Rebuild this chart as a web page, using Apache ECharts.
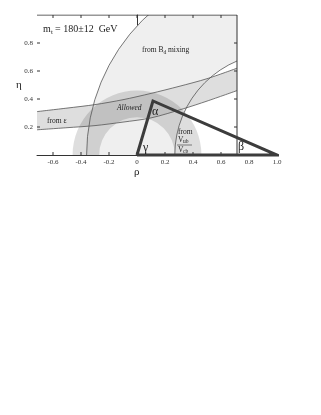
<!DOCTYPE html>
<html><head><meta charset="utf-8">
<script src="https://cdn.jsdelivr.net/npm/echarts@6/dist/echarts.min.js"></script>
<style>html,body{margin:0;padding:0;background:#fff}#c{width:321px;height:415px}</style>
</head><body><div id="c"></div>
<script>
// ---- data ----
const xTickValues = [-0.6, -0.4, -0.2, 0, 0.2, 0.4, 0.6, 0.8, 1.0];
const xTickLabels = ['-0.6', '-0.4', '-0.2', '0', '0.2', '0.4', '0.6', '0.8', '1.0'];
const xFrameTicks = [-0.6, -0.4, -0.2, 0, 0.2, 0.4, 0.6];
const yTickValues = [0.2, 0.4, 0.6, 0.8];
const yTickLabels = ['0.2', '0.4', '0.6', '0.8'];
const frameRho = [-0.7143, 0.7143];
const frameEta = [0, 1.0];
const bdCenter = [1, 0];
const bdRadii = [0.73, 1.36];
const vubCenter = [0, 0];
const vubRadii = [0.27, 0.46];
const epsUpper = [[-0.7143, 0.31], [-0.5, 0.335], [-0.3, 0.36], [-0.1, 0.395], [0.1, 0.44], [0.3, 0.49], [0.5, 0.545], [0.7143, 0.62]];
const epsLower = [[-0.7143, 0.18], [-0.5, 0.195], [-0.3, 0.21], [-0.1, 0.235], [0.1, 0.265], [0.33, 0.33], [0.5, 0.385], [0.7143, 0.46]];
const triangle = [[0, 0], [0.114, 0.386], [1.0, 0], [0, 0]];
const frameEdge = [[-0.7143, 1.0], [0.7143, 1.0], [0.7143, 0]];

const chart = echarts.init(document.getElementById('c'), null, {renderer: 'canvas'});
const FONT = 'Liberation Serif';
const lblIdx = v => { const i = xTickValues.findIndex(t => Math.abs(t - v) < 1e-6); return i >= 0 ? xTickLabels[i] : ''; };
const ylblIdx = v => { const i = yTickValues.findIndex(t => Math.abs(t - v) < 1e-6); return i >= 0 ? yTickLabels[i] : ''; };

function renderShading(params, api) {
  const tl = api.coord([frameRho[0], frameEta[1]]);
  const br = api.coord([frameRho[1], frameEta[0]]);
  const unit = api.size([1, 0])[0];
  const bc = api.coord(bdCenter);
  const vc = api.coord(vubCenter);
  const up = epsUpper.map(p => api.coord(p));
  const lo = epsLower.map(p => api.coord(p));
  const band = up.concat(lo.slice().reverse());
  return {
    type: 'group',
    clipPath: {type: 'rect', shape: {x: tl[0], y: tl[1], width: br[0] - tl[0], height: br[1] - tl[1]}},
    children: [
      {type: 'ring', shape: {cx: bc[0], cy: bc[1], r: bdRadii[1] * unit, r0: bdRadii[0] * unit}, style: {fill: '#efefef'}},
      {type: 'polygon', shape: {points: band}, style: {fill: '#dedede'}},
      {type: 'ring', shape: {cx: vc[0], cy: vc[1], r: vubRadii[1] * unit, r0: vubRadii[0] * unit}, style: {fill: 'rgba(0,0,0,0.13)'}},
      {type: 'circle', shape: {cx: bc[0], cy: bc[1], r: bdRadii[1] * unit}, style: {fill: null, stroke: '#555', lineWidth: 0.8}},
      {type: 'circle', shape: {cx: bc[0], cy: bc[1], r: bdRadii[0] * unit}, style: {fill: null, stroke: '#555', lineWidth: 0.8}},
      {type: 'polyline', shape: {points: up, smooth: 0.3}, style: {fill: null, stroke: '#555', lineWidth: 0.8}},
      {type: 'polyline', shape: {points: lo, smooth: 0.3}, style: {fill: null, stroke: '#555', lineWidth: 0.8}}
    ]
  };
}

function renderTicks(params, api) {
  const L = 3;
  const kids = [];
  const st = {stroke: '#333', lineWidth: 1};
  xFrameTicks.forEach(v => {
    const b = api.coord([v, frameEta[0]]);
    const t = api.coord([v, frameEta[1]]);
    kids.push({type: 'line', shape: {x1: b[0], y1: b[1], x2: b[0], y2: b[1] - L}, style: st});
    kids.push({type: 'line', shape: {x1: t[0], y1: t[1], x2: t[0], y2: t[1] + L}, style: st});
  });
  yTickValues.forEach(v => {
    const l = api.coord([frameRho[0], v]);
    const r = api.coord([frameRho[1], v]);
    kids.push({type: 'line', shape: {x1: l[0], y1: l[1], x2: l[0] + L, y2: l[1]}, style: st});
    kids.push({type: 'line', shape: {x1: r[0], y1: r[1], x2: r[0] - L, y2: r[1]}, style: st});
  });
  return {type: 'group', children: kids};
}

const txt = (x, y, text, size, extra) => Object.assign({
  type: 'text', x: x, y: y, z: 100,
  style: Object.assign({text: text, fontFamily: FONT, fontSize: size, fill: '#222', align: 'left', verticalAlign: 'middle'}, extra || {})
});

chart.setOption({
  animation: false,
  backgroundColor: '#fff',
  grid: {left: 37, top: 15, width: 240, height: 140, containLabel: false},
  xAxis: {type: 'value', min: frameRho[0], max: 1.0, position: 'bottom',
    axisLine: {show: true, lineStyle: {color: '#333', width: 1}},
    axisTick: {show: false},
    axisLabel: {show: true, customValues: xTickValues, formatter: lblIdx, margin: 4, fontFamily: FONT, fontSize: 7, color: '#333'},
    splitLine: {show: false}},
  yAxis: {type: 'value', min: 0, max: 1.0, position: 'left',
    axisLine: {show: true, lineStyle: {color: '#333', width: 1}},
    axisTick: {show: false},
    axisLabel: {show: true, customValues: yTickValues, formatter: ylblIdx, margin: 4, fontFamily: FONT, fontSize: 7, color: '#333'},
    splitLine: {show: false}},
  series: [
    {type: 'custom', name: 'regions', data: [[0, 0]], renderItem: renderShading, z: 1, silent: true},
    {type: 'custom', name: 'ticks', data: [[0, 0]], renderItem: renderTicks, z: 4, silent: true},
    {type: 'line', name: 'frame', data: frameEdge, symbol: 'none', lineStyle: {color: '#333', width: 1}, z: 3, silent: true},
    {type: 'line', name: 'triangle', data: triangle, symbol: 'none', clip: false, lineStyle: {color: '#3c3c3c', width: 3, join: 'miter'}, z: 5, silent: true}
  ],
  graphic: [
    txt(43, 29, 'm', 10),
    txt(51, 32, 't', 7),
    txt(55, 29, '= 180±12  GeV', 10),
    txt(142, 50, 'from B', 7.5),
    txt(163.5, 52.5, 'd', 5.5),
    txt(168, 50, 'mixing', 7.5),
    txt(47, 121, 'from ε', 7.5),
    txt(117, 108, 'Allowed', 7.5, {fontStyle: 'italic'}),
    txt(178, 132, 'from', 7.5),
    txt(178, 140, 'V', 7.5),
    txt(183, 142, 'ub', 5.5),
    {type: 'line', shape: {x1: 177, y1: 145, x2: 192, y2: 145}, style: {stroke: '#333', lineWidth: 0.6}, z: 100},
    txt(178, 150, 'V', 7.5),
    txt(183, 152, 'cb', 5.5),
    txt(152, 112, 'α', 12),
    txt(143, 148, 'γ', 12),
    txt(238, 147, 'β', 12),
    txt(16, 85, 'η', 11),
    txt(134, 172, 'ρ', 11)
  ]
});
</script></body></html>
